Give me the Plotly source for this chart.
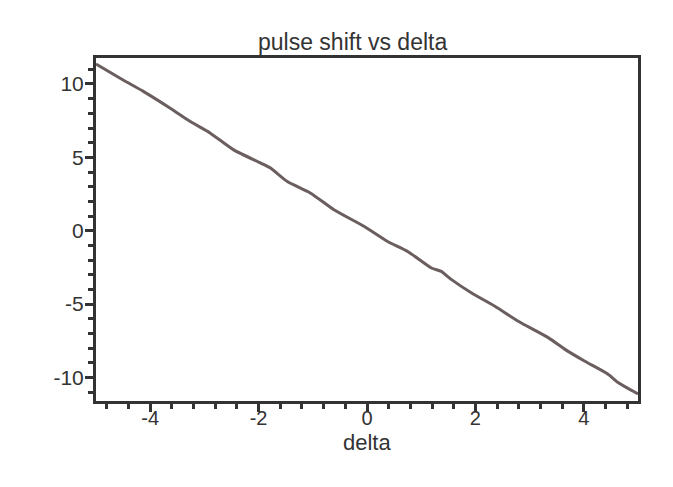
import plotly.graph_objects as go

delta = [-5.0, -4.5, -4.12, -3.63, -3.26, -2.89, -2.46, -1.96, -1.78, -1.47, -1.04,
         -0.61, -0.05, 0.38, 0.75, 1.19, 1.37, 1.56, 1.93, 2.36, 2.79, 3.35, 3.66,
         4.02, 4.43, 4.64, 5.0]
shift = [11.36, 10.27, 9.48, 8.35, 7.44, 6.65, 5.51, 4.61, 4.27, 3.35, 2.56,
         1.43, 0.29, -0.73, -1.41, -2.54, -2.77, -3.33, -4.24, -5.15, -6.17, -7.30, -8.10,
         -8.89, -9.73, -10.36, -11.12]

x_ticks = [-4, -2, 0, 2, 4]
y_ticks = [-10, -5, 0, 5, 10]

axis_col = "#333333"
font = "Liberation Sans, Arial, sans-serif"

fig = go.Figure()
fig.add_trace(go.Scatter(x=delta, y=shift, mode="lines",
                         line=dict(color="#6b5e5e", width=3, shape="spline", smoothing=0.6),
                         showlegend=False, hoverinfo="skip"))

fig.update_layout(
    width=673, height=487,
    margin=dict(l=88, r=43, t=50, b=94),
    paper_bgcolor="white", plot_bgcolor="white",
    font=dict(family=font, size=21, color="#333333"),
    annotations=[
        dict(text="pulse shift vs delta", x=0.474, y=1.0, xref="paper", yref="paper",
             xanchor="center", yanchor="bottom", yshift=1, showarrow=False,
             font=dict(family=font, size=23, color="#333333")),
        dict(text="delta", x=0.5, y=0.0, xref="paper", yref="paper",
             xanchor="center", yanchor="top", yshift=-27, showarrow=False,
             font=dict(family=font, size=22, color="#333333")),
    ],
)
fig.update_xaxes(
    range=[-5, 5], tickvals=x_ticks, ticktext=[str(v) for v in x_ticks],
    showgrid=False, zeroline=False,
    showline=True, linecolor=axis_col, linewidth=3, mirror=True,
    ticks="outside", ticklen=8, tickwidth=3, tickcolor=axis_col,
    minor=dict(dtick=0.4, tick0=0, ticks="outside", ticklen=5, tickwidth=3, tickcolor=axis_col, showgrid=False),
    tickfont=dict(size=20), ticklabelstandoff=-11,
)
fig.update_yaxes(
    range=[-11.6, 11.77], tickvals=y_ticks, ticktext=[str(v) for v in y_ticks],
    showgrid=False, zeroline=False,
    showline=True, linecolor=axis_col, linewidth=3, mirror=True,
    ticks="outside", ticklen=8, tickwidth=3, tickcolor=axis_col,
    minor=dict(dtick=1, tick0=0, ticks="outside", ticklen=5, tickwidth=3, tickcolor=axis_col, showgrid=False),
    tickfont=dict(size=21), ticklabelstandoff=-3,
)

fig.write_html("out.html")
